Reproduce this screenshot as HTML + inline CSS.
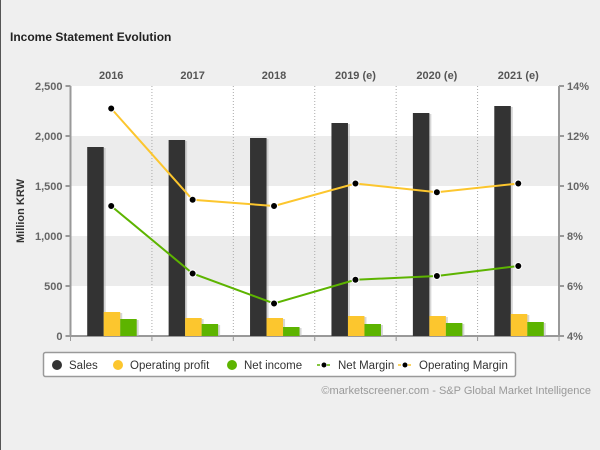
<!DOCTYPE html>
<html><head><meta charset="utf-8"><style>
body{margin:0;background:#f0f0f0;font-family:"Liberation Sans",Arial,sans-serif;}
#wrap{position:relative;width:600px;height:450px;background:#efefef;overflow:hidden;border-left:1px solid #555;box-sizing:border-box;}
</style></head><body>
<div id="wrap">
<svg id="chart" width="600" height="450">
<text x="9" y="41" font-size="12" font-weight="bold" fill="#222">Income Statement Evolution</text>
</svg>
</div>
<script>
const categories=["2016","2017","2018","2019 (e)","2020 (e)","2021 (e)"];
const sales=[1890,1960,1980,2130,2230,2300];
const opProfit=[240,180,180,200,200,220];
const netIncome=[170,120,90,120,130,140];
const netMargin=[9.2,6.5,5.3,6.25,6.4,6.8];
const opMargin=[13.1,9.45,9.2,10.1,9.75,10.1];
const leftTicks=["0","500","1,000","1,500","2,000","2,500"];
const leftVals=[0,500,1000,1500,2000,2500];
const rightVals=[4,6,8,10,12,14];

const NS="http://www.w3.org/2000/svg";
const svg=document.getElementById('chart');
const L=69.5,R=558,T=86,B=336,cw=(R-L)/6;
const yL=v=>B-(v/2500)*(B-T);
const yR=v=>B-((v-4)/10)*(B-T);
const xc=i=>L+cw*(i+0.5);
function mk(tag,a,parent){const e=document.createElementNS(NS,tag);for(const k in a)e.setAttribute(k,a[k]);(parent||svg).appendChild(e);return e;}

let r=mk('rect',{x:L,y:T,width:R-L,height:B-T,fill:'#fff'});


for(let k=0;k<5;k++){if(k%2===1){let b=mk('rect',{x:L,y:yL(leftVals[k+1]),width:R-L,height:yL(leftVals[k])-yL(leftVals[k+1]),fill:'#ececec'});

}}
for(let i=1;i<6;i++){let d=mk('line',{x1:L+cw*i,x2:L+cw*i,y1:T,y2:B+4,stroke:'#aaa','stroke-dasharray':'1,2'});

}
// axes
let ax=mk('line',{x1:L,x2:L,y1:T,y2:B,stroke:'#999','stroke-width':2});


ax=mk('line',{x1:R,x2:R,y1:T,y2:B,stroke:'#999','stroke-width':2});


ax=mk('line',{x1:L,x2:R,y1:B,y2:B,stroke:'#999','stroke-width':2});


leftVals.forEach((v,k)=>{mk('line',{x1:L-5,x2:L,y1:yL(v),y2:yL(v),stroke:'#999','stroke-width':2});
let t=mk('text',{x:L-8,y:yL(v)+4,'text-anchor':'end','font-size':11,'font-weight':'bold',fill:'#666'});t.textContent=leftTicks[k];

});
rightVals.forEach(v=>{mk('line',{x1:R,x2:R+5,y1:yR(v),y2:yR(v),stroke:'#999','stroke-width':2});
let t=mk('text',{x:R+8,y:yR(v)+4,'font-size':11,'font-weight':'bold',fill:'#666'});t.textContent=v+'%';

});
for(let i=0;i<=6;i++)mk('line',{x1:L+cw*i,x2:L+cw*i,y1:B,y2:B+5,stroke:'#999','stroke-width':1});
categories.forEach((c,i)=>{let t=mk('text',{x:xc(i),y:79,'text-anchor':'middle','font-size':11,'font-weight':'bold',fill:'#555'});t.textContent=c;

});
let yt=mk('text',{x:0,y:0,transform:'translate(23,211) rotate(-90)','text-anchor':'middle','font-size':11,'font-weight':'bold',fill:'#333'});yt.textContent='Million KRW';


// bars
const bw=16.5;
[[sales,'#333','sales-bar'],[opProfit,'#fcc62e','operating-profit-bar'],[netIncome,'#5db400','net-income-bar']].forEach((s,j)=>{
 s[0].forEach((v,i)=>{const x=xc(i)-24+j*bw;
 mk('rect',{x:x+2,y:yL(v)+1,width:bw,height:B-yL(v)-1,fill:'#bbb',opacity:0.6});
 let b=mk('rect',{x:x,y:yL(v),width:bw,height:B-yL(v),fill:s[1]});
 
 });});
// lines
[[opMargin,'#fcc62e','operating-margin'],[netMargin,'#5db400','net-margin']].forEach(s=>{
 let p=mk('polyline',{points:s[0].map((v,i)=>xc(i)+','+yR(v)).join(' '),fill:'none',stroke:s[1],'stroke-width':2});
 
 
 s[0].forEach((v,i)=>{let c=mk('circle',{cx:xc(i),cy:yR(v),r:3.5,fill:'#000',stroke:'#fff','stroke-width':1});
 
 });});
// legend
let lg=mk('rect',{x:42.5,y:352.5,width:472,height:24,rx:2,fill:'#fff',stroke:'#999','stroke-width':1.5});


const items=[['Sales','#333',56,'c'],['Operating profit','#fcc62e',117,'c'],['Net income','#5db400',231,'c'],['Net Margin','#5db400',323,'l'],['Operating Margin','#fcc62e',404,'l']];
items.forEach(it=>{const g=mk('g',{});
 
 
 if(it[3]==='c'){mk('circle',{cx:it[2],cy:365,r:5,fill:it[1]},g);}
 else{mk('line',{x1:it[2]-7,x2:it[2]+7,y1:365,y2:365,stroke:it[1],'stroke-width':1.5,'stroke-dasharray':'3,2'},g);mk('circle',{cx:it[2],cy:365,r:2.5,fill:'#000'},g);}
 const t=mk('text',{x:it[2]+(it[3]==='c'?12:14),y:369,'font-size':11.5,fill:'#333'},g);t.textContent=it[0];});
let cp=mk('text',{x:590,y:394,'text-anchor':'end','font-size':11,fill:'#999'});cp.textContent='©marketscreener.com - S&P Global Market Intelligence';


</script>
</body></html>
